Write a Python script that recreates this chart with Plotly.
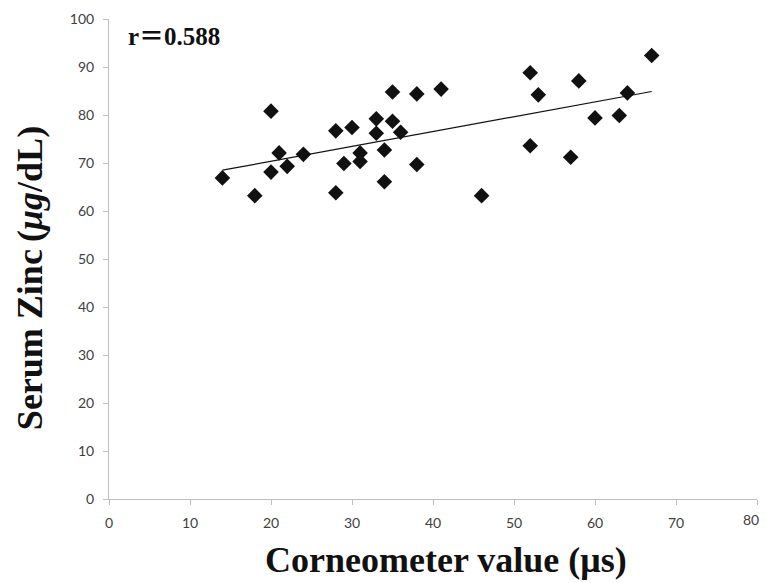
import plotly.graph_objects as go

corneometer = [14, 18, 20, 20, 21, 22, 24, 28, 28, 29, 30, 31, 31, 33, 33, 34, 34,
               35, 35, 36, 38, 38, 41, 46, 52, 52, 53, 57, 58, 60, 63, 64, 67]
serum_zinc = [66.9, 63.2, 80.8, 68.1, 72.1, 69.3, 71.8, 76.7, 63.8, 69.9, 77.4, 72.1, 70.3,
              79.2, 76.2, 72.7, 66.1, 84.8, 78.7, 76.4, 84.4, 69.7, 85.4, 63.2, 88.8, 73.6,
              84.2, 71.2, 87.1, 79.4, 79.9, 84.6, 92.4]
trend_x = [14, 67]
trend_y = [68.5, 84.9]
x_ticks = [0, 10, 20, 30, 40, 50, 60, 70, 80]
x_tick_labels = ["0", "10", "20", "30", "40", "50", "60", "70", "80"]
y_ticks = [0, 10, 20, 30, 40, 50, 60, 70, 80, 90, 100]

tick_font = dict(family="Lato, Open Sans, sans-serif", size=14, color="#404040")

fig = go.Figure()
fig.add_trace(go.Scatter(x=corneometer, y=serum_zinc, mode="markers",
                         marker=dict(symbol="diamond", size=12, color="#111111",
                                     line=dict(width=0)),
                         showlegend=False, hoverinfo="x+y"))
fig.add_trace(go.Scatter(x=trend_x, y=trend_y, mode="lines",
                         line=dict(color="#111111", width=1.2),
                         showlegend=False, hoverinfo="skip"))

axis_common = dict(showgrid=False, zeroline=False, showline=True, linecolor="#bfbfbf",
                   linewidth=1, ticks="outside", ticklen=5, tickcolor="#bfbfbf",
                   tickfont=tick_font)

# the last x tick label is drawn as an annotation so it stays inside the page edge
fig.update_xaxes(range=[0, 80], tickvals=x_ticks,
                 ticktext=x_tick_labels[:-1] + [""], ticklabelstandoff=6, **axis_common)
fig.update_yaxes(range=[0, 100], tickvals=y_ticks, ticklabelstandoff=6, **axis_common)

fig.add_annotation(text=x_tick_labels[-1], xref="x", yref="paper", x=x_ticks[-1], y=0,
                   xanchor="right", yanchor="top", xshift=4, yshift=-10, showarrow=False,
                   font=tick_font)
fig.add_annotation(text="<b>r＝0.588</b>", xref="paper", yref="paper", x=0.027, y=0.9625,
                   xanchor="left", yanchor="middle", showarrow=False,
                   font=dict(family="Liberation Serif, Noto Sans CJK JP, serif", size=25,
                             color="#111111"))
fig.add_annotation(text="<b>Corneometer value (μs)</b>", xref="paper", yref="paper",
                   x=0.52, y=-0.127, xanchor="center", yanchor="middle", showarrow=False,
                   font=dict(family="Liberation Serif, serif", size=36, color="#111111"))
fig.add_annotation(text="<b>Serum Zinc\u2009(<i>μg</i>/dL)</b>", xref="paper", yref="paper",
                   x=-0.122, y=0.46, xanchor="center", yanchor="middle", showarrow=False,
                   textangle=-90,
                   font=dict(family="Liberation Serif, serif", size=36, color="#111111"))

# page body has an 8px default margin, so the figure is offset to match the window
fig.update_layout(width=759, height=575,
                  margin=dict(l=101, r=10, t=11, b=84, autoexpand=False),
                  plot_bgcolor="white", paper_bgcolor="white")

fig.write_html("out.html")
